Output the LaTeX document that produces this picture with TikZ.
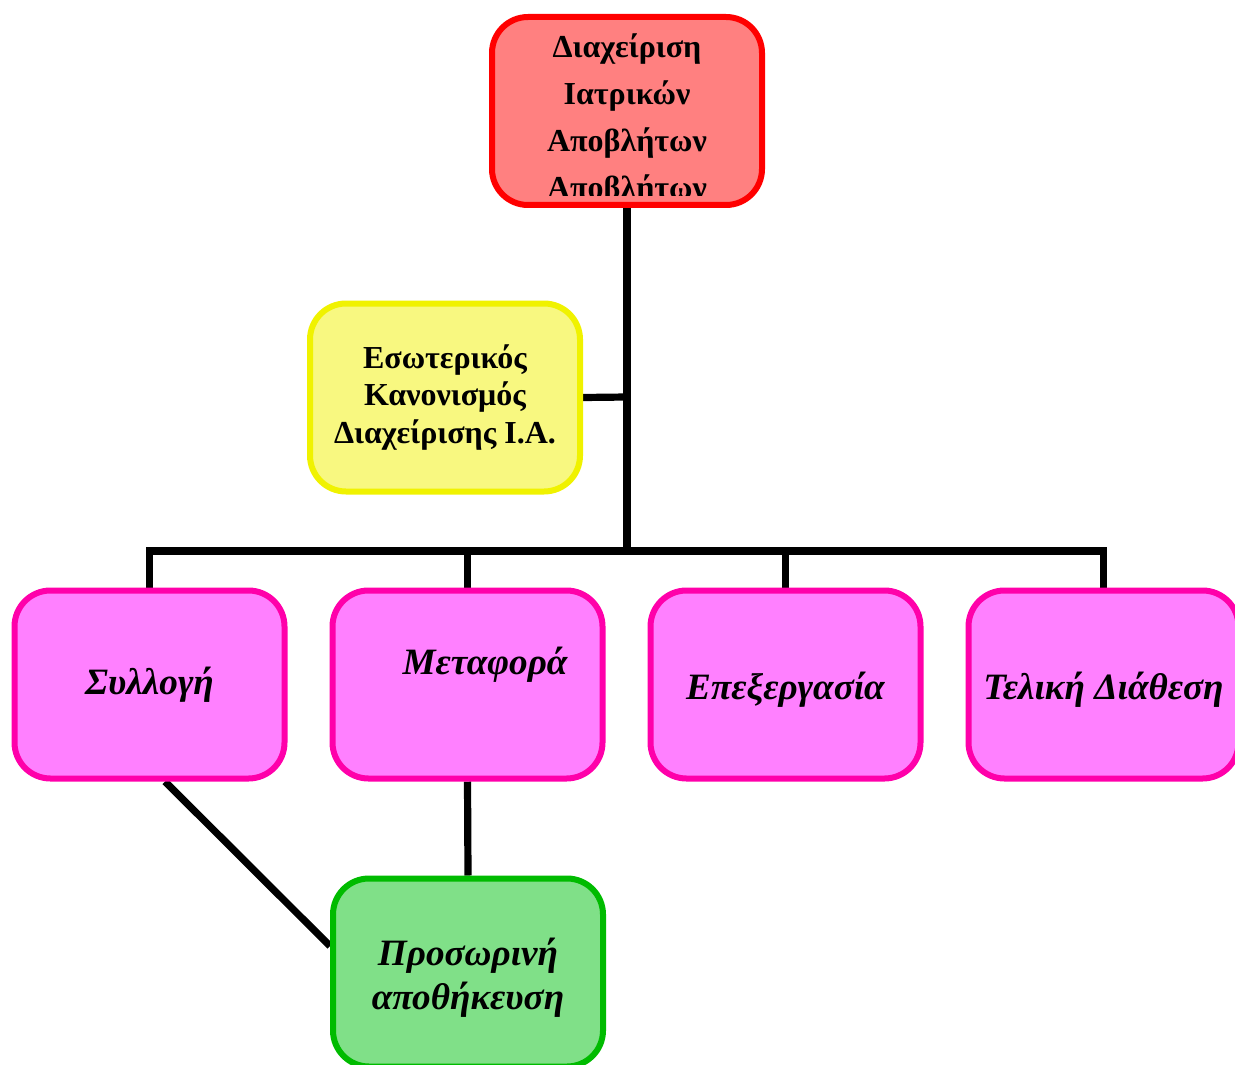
\documentclass[tikz,border=0pt]{standalone}
\usepackage{fontspec}
\setmainfont{Liberation Serif}
\definecolor{topred}{HTML}{FF0000}
\definecolor{topfill}{HTML}{FF8080}
\definecolor{yelline}{HTML}{F0F200}
\definecolor{yelfill}{HTML}{F8F880}
\definecolor{pinkline}{HTML}{FF00AA}
\definecolor{pinkfill}{HTML}{FF80FF}
\definecolor{grnline}{HTML}{00BB00}
\definecolor{grnfill}{HTML}{80E088}
\pgfdeclarelayer{bg}
\pgfsetlayers{bg,main}
\newcommand{\lowr}[2]{\raisebox{-#1}[\height][\depth]{#2}}
\begin{document}
\begin{tikzpicture}[x=0.5pt,y=-0.5pt,
  box/.style={rounded corners=18pt, line width=3pt, minimum width=135pt, minimum height=94pt, inner sep=0pt, align=center},
  topbox/.style={box, draw=topred, fill=topfill},
  yelbox/.style={box, draw=yelline, fill=yelfill, font=\bfseries\fontsize{16}{18.75}\selectfont},
  pinkfont/.style={font=\bfseries\itshape\fontsize{18.6}{22}\selectfont},
  pinkbox/.style={box, draw=pinkline, fill=pinkfill, pinkfont},
  grnbox/.style={box, draw=grnline, fill=grnfill, font=\bfseries\itshape\fontsize{18.6}{22}\selectfont},
  toptextstyle/.style={inner sep=0pt, align=center, font=\bfseries\fontsize{16}{23.5}\selectfont},
  conn/.style={line width=3.6pt, draw=black}
]
\useasboundingbox (0,0) rectangle (1235,1064);
\node[topbox] (top) at (627,111) {};
\begin{scope}
  \clip (493,18) rectangle (761,196);
  \node[toptextstyle] (toptext) at (627,120) {Διαχείριση\\Ιατρικών\\Αποβλήτων\\Αποβλήτων};
\end{scope}
\node[yelbox] (yel) at (445,397.5) {Εσωτερικός\\Κανονισμός\\Διαχείρισης Ι.Α.};
\node[pinkbox] (c1) at (149.5,684.5) {Συλλογή};
\node[pinkbox] (c2) at (467.5,684.5) {};
\node[pinkfont, inner sep=0pt] (c2text) at (485,665) {Μεταφορά};
\node[pinkbox] (c3) at (785.5,684.5) {\lowr{2.5pt}{Επεξεργασία}};
\node[pinkbox] (c4) at (1103.5,684.5) {\lowr{2.5pt}{Τελική Διάθεση}};
\node[grnbox] (g) at (468,972.5) {\lowr{2.5pt}{Προσωρινή}\\\lowr{2.5pt}{αποθήκευση}};
\coordinate (j) at (627,551);
\coordinate (yj) at (627,397);
\begin{pgfonlayer}{bg}
  \draw[conn] (top.south) -- (j);
  \draw[conn] (yel.east) -- (yj);
  \draw[conn] (c1.north) |- (c4.north |- j) -- (c4.north);
  \draw[conn] (c2.north) -- (c2.north |- j);
  \draw[conn] (c3.north) -- (c3.north |- j);
  \draw[conn] ([xshift=7.75pt]c1.south) -- ([yshift=13.25pt]g.west);
  \draw[conn] (c2.south) -- (g.north);
\end{pgfonlayer}
\end{tikzpicture}
\end{document}
